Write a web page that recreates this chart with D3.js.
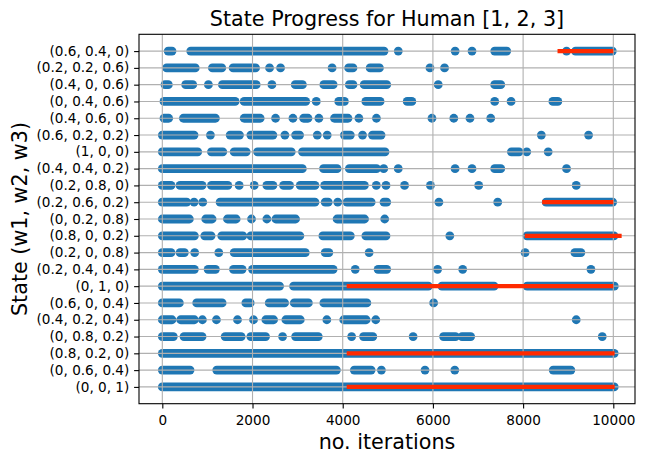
<!DOCTYPE html>
<html>
<head>
<meta charset="utf-8">
<script src="https://cdn.jsdelivr.net/npm/d3@7/dist/d3.min.js"></script>
<style>
  body { margin: 0; background: #fff; }
  text { font-family: "DejaVu Sans", sans-serif; }
</style>
</head>
<body>
<script>
// States on the y axis, bottom to top
const states = [
  "(0, 0, 1)", "(0, 0.6, 0.4)", "(0.8, 0.2, 0)", "(0, 0.8, 0.2)", "(0.4, 0.2, 0.4)",
  "(0.6, 0, 0.4)", "(0, 1, 0)", "(0.2, 0.4, 0.4)", "(0.2, 0, 0.8)", "(0.8, 0, 0.2)",
  "(0, 0.2, 0.8)", "(0.2, 0.6, 0.2)", "(0.2, 0.8, 0)", "(0.4, 0.4, 0.2)", "(1, 0, 0)",
  "(0.6, 0.2, 0.2)", "(0.4, 0.6, 0)", "(0, 0.4, 0.6)", "(0.4, 0, 0.6)", "(0.2, 0.2, 0.6)",
  "(0.6, 0.4, 0)"
];

// Iterations spent in each state (same order as states).
// [a, b] = a dense run of points from a to b, a plain number = a single point
const visits = [
  /* (0, 0, 1)       */ [[0, 10020]],
  /* (0, 0.6, 0.4)   */ [[0, 615], [1207, 3860], [4257, 4630], 4858, 5825, 6485, [8667, 9059]],
  /* (0.8, 0.2, 0)   */ [[0, 10020]],
  /* (0, 0.8, 0.2)   */ [[0, 244], [481, 881], [1393, 1748], [1963, 2289], 2667, [2955, 3458], 4198, [4462, 4667], 5561, [6236, 6500], [6645, 6837], 9755],
  /* (0.4, 0.2, 0.4) */ [[0, 215], [407, 711], 889, 1200, 1667, 2022, [2296, 2467], [2740, 3059], 3648, [4022, 4520], 4733, 9178],
  /* (0.6, 0, 0.4)   */ [[0, 378], [763, 1326], [1852, 1948], [2370, 2711], [2926, 3238], [3582, 4535], 6016],
  /* (0, 1, 0)       */ [[0, 2600], [2911, 5899], [6199, 7356], [8089, 10022]],
  /* (0.2, 0.4, 0.4) */ [[0, 711], [1015, 1178], [1578, 1770], [2000, 3787], 4278, [4784, 4975], 6104, 6660, 9504],
  /* (0.2, 0, 0.8)   */ [[0, 193], [393, 489], 718, 1252, [1593, 3170], [3612, 3693], 4586, 8044, [9148, 9281]],
  /* (0.8, 0, 0.2)   */ [[0, 711], [941, 1081], [1318, 1785], [1963, 3050], [3560, 4169], [4513, 4960], 6375, [8087, 10016]],
  /* (0, 0.2, 0.8)   */ [[0, 600], [963, 1104], [1444, 1637], 1978, 2318, [2518, 2955], [3875, 4484], 4931],
  /* (0.2, 0.6, 0.2) */ [[0, 540], 704, 896, [1281, 3384], [3612, 3678], 3890, [4095, 4630], [4916, 4975], 6133, 7437, [8511, 9985]],
  /* (0.2, 0.8, 0)   */ [[0, 193], [393, 881], [1089, 1452], 1704, 2037, [2318, 2452], [2689, 2822], [3059, 3384], [3600, 4480], 4745, 4960, 5371, 5945, 7015, 9178],
  /* (0.4, 0.4, 0.2) */ [[0, 3104], [3575, 3875], [4147, 4750], 4909, 5231, 6492, 6867, [7370, 7504], 8963],
  /* (1, 0, 0)       */ [[0, 785], [1089, 1341], [1593, 1860], [2111, 2859], [3108, 4938], [7740, 7911], 8081, 8556],
  /* (0.6, 0.2, 0.2) */ [[0, 704], 1067, [1504, 1711], [1963, 2452], 2718, [2955, 3044], 3436, 3656, [4037, 4169], 4440, [4660, 4850], 8404, 9452],
  /* (0.4, 0.6, 0)   */ [[37, 141], [467, 1178], [1815, 2170], 2511, 2896, [3133, 3230], 3472, [3817, 4117], 4359, 4748, 5979, 6463, 6822, 7282],
  /* (0, 0.4, 0.6)   */ [[37, 1615], [1815, 3179], 3414, [3912, 4037], [4513, 4828], [5430, 5532], 7370, 7733, [8660, 8770]],
  /* (0.4, 0, 0.6)   */ [[60, 133], [518, 674], 1022, [1333, 2081], 2430, [2948, 3106], [3582, 3787], [4147, 4227], [4476, 4975], 6118, [7370, 7504]],
  /* (0.2, 0.2, 0.6) */ [[96, 730], [1111, 1318], [1570, 2067], 2378, 2622, 3765, [4132, 4227], [4608, 4814], 5935, 6258],
  /* (0.6, 0.4, 0)   */ [[130, 215], [630, 4916], 5232, 6493, 6867, [7370, 7637], 8963, [9163, 9978]]
];

// Red segments drawn over the points
const redState = [0, 2, 6, 9, 11, 20];
const redFrom = [4088, 4088, 4088, 8037, 8422, 8763];
const redTo = [10030, 10030, 10000, 10185, 10000, 10000];

const xTicks = [0, 2000, 4000, 6000, 8000, 10000];

(function(d3) {
  "use strict";

  /***** Configuration *****/
  const width = 645;
  const height = 463;
  const margin = { top: 34.3, right: 10, bottom: 59.3, left: 139 };
  const innerW = width - margin.left - margin.right;
  const innerH = height - margin.top - margin.bottom;

  const blue = "#1f77b4";
  const red = "#ff2a00";
  const grid = "#b0b0b0";
  const dotR = 4.4;

  /***** Scales *****/
  const x = d3.scaleLinear().domain([-517, 10481]).range([0, innerW]);
  const y = d3.scaleLinear().domain([-1, 21]).range([innerH, 0]);

  const svg = d3.select("body")
    .append("svg")
    .attr("width", width)
    .attr("height", height);

  svg.append("rect").attr("width", width).attr("height", height).attr("fill", "#fff");

  const g = svg.append("g")
    .attr("transform", "translate(" + margin.left + "," + margin.top + ")");

  // split the visits into runs and single points
  const runs = [];
  const points = [];
  visits.forEach((list, s) => {
    list.forEach(v => {
      if (Array.isArray(v)) runs.push({ s: s, a: v[0], b: v[1] });
      else points.push({ s: s, a: v });
    });
  });

  /***** Points *****/
  const marks = g.append("g");
  marks.selectAll("line")
    .data(runs)
    .join("line")
    .attr("x1", d => x(d.a))
    .attr("x2", d => x(d.b))
    .attr("y1", d => y(d.s))
    .attr("y2", d => y(d.s))
    .attr("stroke", blue)
    .attr("stroke-width", dotR * 2)
    .attr("stroke-linecap", "round");

  marks.selectAll("circle")
    .data(points)
    .join("circle")
    .attr("cx", d => x(d.a))
    .attr("cy", d => y(d.s))
    .attr("r", dotR)
    .attr("fill", blue);

  /***** Grid (above points, below lines) *****/
  const gridG = g.append("g")
    .attr("stroke", grid)
    .attr("stroke-width", 1.1);
  gridG.selectAll(".gx")
    .data(xTicks)
    .join("line")
    .attr("x1", d => x(d)).attr("x2", d => x(d))
    .attr("y1", 0).attr("y2", innerH);
  gridG.selectAll(".gy")
    .data(states.map((_, i) => i))
    .join("line")
    .attr("class", "gy")
    .attr("x1", 0).attr("x2", innerW)
    .attr("y1", d => y(d)).attr("y2", d => y(d));

  /***** Red lines *****/
  g.append("g")
    .selectAll("line")
    .data(redState.map((s, i) => ({ s: s, a: redFrom[i], b: redTo[i] })))
    .join("line")
    .attr("x1", d => x(d.a))
    .attr("x2", d => x(d.b))
    .attr("y1", d => y(d.s))
    .attr("y2", d => y(d.s))
    .attr("stroke", red)
    .attr("stroke-width", 4.2);

  /***** Axes *****/
  const xAxis = d3.axisBottom(x)
    .tickValues(xTicks)
    .tickFormat(d3.format("d"))
    .tickSize(4.9)
    .tickPadding(6.7);
  const yAxis = d3.axisLeft(y)
    .tickValues(states.map((_, i) => i))
    .tickFormat(i => states[i])
    .tickSize(4.9)
    .tickPadding(4.8);

  const gx = g.append("g")
    .attr("transform", "translate(0," + innerH + ")")
    .call(xAxis);
  const gy = g.append("g").call(yAxis);

  [gx, gy].forEach(a => {
    a.select(".domain").remove();
    a.selectAll(".tick line").attr("stroke", "#000").attr("stroke-width", 1.1);
    a.selectAll(".tick text")
      .attr("fill", "#000")
      .style("font-family", "DejaVu Sans")
      .style("font-size", "13.6px");
  });
  gy.selectAll(".tick text").attr("dy", "0.3em");

  // frame
  g.append("rect")
    .attr("width", innerW)
    .attr("height", innerH)
    .attr("fill", "none")
    .attr("stroke", "#000")
    .attr("stroke-width", 1.1);

  /***** Labels *****/
  svg.append("text")
    .attr("x", margin.left + innerW / 2)
    .attr("y", 26)
    .attr("text-anchor", "middle")
    .style("font-size", "20.7px")
    .text("State Progress for Human [1, 2, 3]");

  svg.append("text")
    .attr("x", margin.left + innerW / 2)
    .attr("y", 449)
    .attr("text-anchor", "middle")
    .style("font-size", "20.7px")
    .text("no. iterations");

  svg.append("text")
    .attr("transform", "translate(26.5," + (margin.top + innerH / 2) + ") rotate(-90)")
    .attr("text-anchor", "middle")
    .style("font-size", "20.7px")
    .text("State (w1, w2, w3)");
})(d3);
</script>
</body>
</html>
